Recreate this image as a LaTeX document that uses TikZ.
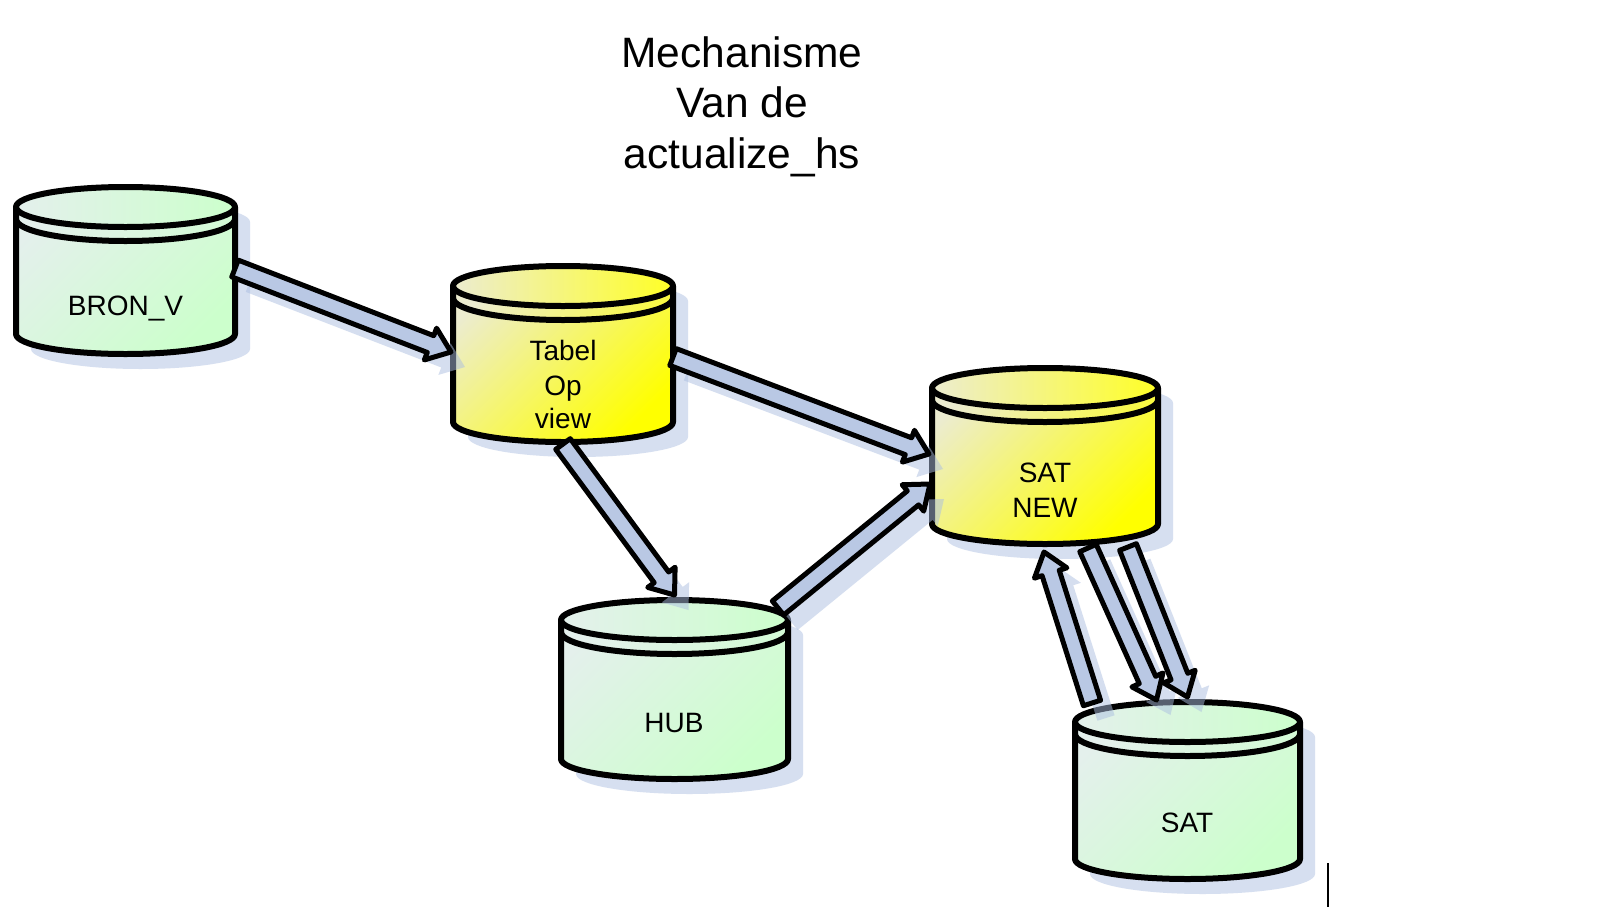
\documentclass[tikz,border=0pt]{standalone}
\usepackage{fontspec}
\setmainfont{Liberation Sans}
\usetikzlibrary{calc}
\definecolor{shadowc}{RGB}{214,223,240}
\definecolor{arrshc}{RGB}{172,191,225}
\definecolor{arrfill}{RGB}{185,200,228}
\definecolor{arrlight}{RGB}{214,224,240}
\definecolor{grnfull}{RGB}{204,255,204}
\definecolor{grnpale}{RGB}{228,240,236}
\definecolor{yelfull}{RGB}{255,255,0}
\definecolor{yelpale}{RGB}{236,236,208}

\tikzset{
  cylshadow/.style={fill=shadowc},
  cylline/.style={draw=black, line width=6pt, line join=round},
  cylbox/.style={rectangle, inner sep=0pt, outer sep=0pt, draw=none},
  grnbody/.style={top color=grnpale, bottom color=grnfull, shading angle=45},
  grntop/.style={left color=grnpale, right color=grnfull},
  yelbody/.style={top color=yelpale, bottom color=yelfull, shading angle=45},
  yeltop/.style={left color=yelpale, right color=yelfull!85!white},
  arrshadow/.style={fill=arrshc, fill opacity=0.5},
  arrbody/.style={fill=arrfill, draw=black, line width=5pt, line join=round},
  celltext/.style={anchor=base, inner sep=0pt, font=\fontsize{28}{34}\selectfont},
  titletext/.style={anchor=base, inner sep=0pt, font=\fontsize{42.5}{50}\selectfont},
}

% cylinder: #1 name, #2 left, #3 top, #4 right, #5 bottom, #6 colour prefix
\newcommand\dbcylinder[6]{%
  \pgfmathsetmacro\cyL{#2+3}%
  \pgfmathsetmacro\cyR{#4-3}%
  \pgfmathsetmacro\cyT{#3+3}%
  \pgfmathsetmacro\cyB{#5-3}%
  \pgfmathsetmacro\cyRX{(\cyR-\cyL)/2}%
  \pgfmathsetmacro\cyA{\cyT+20}%
  \pgfmathsetmacro\cyZ{\cyB-20}%
  \pgfmathsetmacro\cyM{\cyA+12}%
  \pgfmathsetmacro\cyX{(\cyL+\cyR)/2}%
  \pgfmathsetmacro\cyY{(#3+#5)/2}%
  \pgfmathsetmacro\cyW{#4-#2}%
  \pgfmathsetmacro\cyH{#5-#3}%
  \fill[cylshadow, shift={(15,15)}] (\cyL,\cyA)
     arc[start angle=180, end angle=0, x radius=\cyRX pt, y radius=20pt]
     -- (\cyR,\cyZ)
     arc[start angle=0, end angle=-180, x radius=\cyRX pt, y radius=20pt]
     -- cycle;
  \shade[#6body] (\cyL,\cyA) -- (\cyL,\cyZ)
     arc[start angle=180, end angle=360, x radius=\cyRX pt, y radius=20pt]
     -- (\cyR,\cyA)
     arc[start angle=0, end angle=180, x radius=\cyRX pt, y radius=20pt]
     -- cycle;
  \shade[#6top] (\cyX,\cyA) ellipse[x radius=\cyRX pt, y radius=20pt];
  \draw[cylline] (\cyL,\cyA) -- (\cyL,\cyZ)
     arc[start angle=180, end angle=360, x radius=\cyRX pt, y radius=20pt]
     -- (\cyR,\cyA);
  \draw[cylline] (\cyX,\cyA) ellipse[x radius=\cyRX pt, y radius=20pt];
  \draw[cylline] (\cyL,\cyM)
     arc[start angle=180, end angle=360, x radius=\cyRX pt, y radius=22pt];
  \node[cylbox, minimum width=\cyW pt, minimum height=\cyH pt] (#1) at (\cyX,\cyY) {};
}

% block arrow polygon: #1 style, #2 tail coordinate, #3 tip coordinate
\newcommand\arrowpoly[3]{%
  \coordinate (ah) at ($(#3)!22pt!(#2)$);
  \path[#1] ($(#2)!9pt!90:(#3)$) -- ($(ah)!9pt!-90:(#2)$)
     -- ($(ah)!17pt!-90:(#2)$) -- (#3)
     -- ($(ah)!17pt!90:(#2)$) -- ($(ah)!9pt!90:(#2)$)
     -- ($(#2)!9pt!-90:(#3)$) -- cycle;
}
\newcommand\arrowshadow[2]{%
  \coordinate (sa) at ([shift={(14,15)}]#1);
  \coordinate (sb) at ([shift={(14,15)}]#2);
  \arrowpoly{arrshadow}{sa}{sb}%
}

\begin{document}
\begin{tikzpicture}[x=1pt, y=-1pt]
  \useasboundingbox (0,0) rectangle (1623,914);
  \fill[white] (0,0) rectangle (1623,914);

  % title
  \node[titletext] (title1) at (742,67) {Mechanisme};
  \node[titletext] (title2) at (742,117) {Van de};
  \node[titletext] (title3) at (742,168) {actualize\_hs};

  % cylinders
  \dbcylinder{bron}{13}{184}{238}{357}{grn}
  \dbcylinder{tabel}{450}{263}{676}{445}{yel}
  \dbcylinder{satnew}{929}{365}{1161}{547}{yel}
  \dbcylinder{hub}{558}{597}{791}{782}{grn}
  \dbcylinder{sat}{1072}{699}{1303}{882}{grn}

  % connector ends
  \coordinate (a1s) at ([shift={(-3,-2)}]bron.east);
  \coordinate (a1e) at ([shift={(1,-2)}]tabel.west);
  \coordinate (a2s) at ([shift={(-3,3)}]tabel.east);
  \coordinate (a2e) at ([shift={(0,-2)}]satnew.west);
  \coordinate (a3s) at ([shift={(0,-1)}]tabel.south);
  \coordinate (a3e) at ([shift={(0,-2)}]hub.north);
  \coordinate (a4s) at ([shift={(-13,11)}]hub.north east);
  \coordinate (a4e) at ([shift={(1,28)}]satnew.west);
  \coordinate (a5s) at ([shift={(20,4)}]sat.north west);
  \coordinate (a5e) at ([shift={(-1,5)}]satnew.south);
  \coordinate (a6s) at ([shift={(43,1)}]satnew.south);
  \coordinate (a6e) at ([shift={(-31,1)}]sat.north);
  \coordinate (a7s) at ([shift={(83,0)}]satnew.south);
  \coordinate (a7e) at ([shift={(0,-2)}]sat.north);

  % arrow shadows
  \arrowshadow{a1s}{a1e}
  \arrowshadow{a2s}{a2e}
  \arrowshadow{a3s}{a3e}
  \arrowshadow{a4s}{a4e}
  \arrowshadow{a5s}{a5e}
  \arrowshadow{a6s}{a6e}
  \arrowshadow{a7s}{a7e}

  % arrows
  \arrowpoly{arrbody}{a1s}{a1e}
  \arrowpoly{arrbody}{a2s}{a2e}
  \arrowpoly{arrbody}{a3s}{a3e}
  \arrowpoly{arrbody}{a4s}{a4e}
  \arrowpoly{arrbody}{a5s}{a5e}
  \arrowpoly{arrbody}{a6s}{a6e}
  \arrowpoly{arrbody}{a7s}{a7e}

  % labels
  \node[celltext] (bron-t) at (125.5,315) {BRON\_V};
  \node[celltext] (tabel-t1) at (563,360) {Tabel};
  \node[celltext] (tabel-t2) at (563,395) {Op};
  \node[celltext] (tabel-t3) at (563,428) {view};
  \node[celltext] (satnew-t1) at (1045,482) {SAT};
  \node[celltext] (satnew-t2) at (1045,517) {NEW};
  \node[celltext] (hub-t) at (674,732) {HUB};
  \node[celltext] (sat-t) at (1187,832) {SAT};

  % stray cursor mark
  \coordinate (cur-a) at (1328,863);
  \coordinate (cur-b) at (1328,907);
  \draw[line width=2pt] (cur-a) -- (cur-b);
\end{tikzpicture}
\end{document}
